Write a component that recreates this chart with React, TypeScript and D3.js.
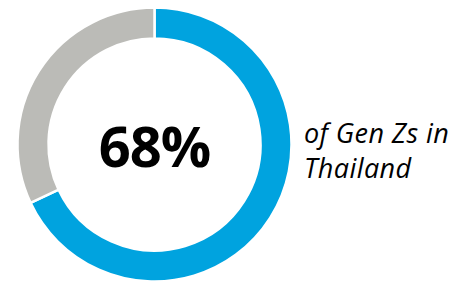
import { useEffect, useRef } from "react";
import * as d3 from "d3";

const segments = ["Gen Zs", "Others"];
const values = [68, 32];
const colors = ["#00a3df", "#bbbbb7"];
const centerLabel = "68%";
const sideLines = ["of Gen Zs in", "Thailand"];

export default function App() {
  const svgRef = useRef<SVGSVGElement>(null);

  useEffect(() => {
    if (!svgRef.current) return;
    const svg = d3.select(svgRef.current);
    svg.selectAll("*").remove();

    const cx = 154.5;
    const cy = 144.5;
    const outer = 137;
    const inner = 106;

    const pie = d3.pie<number>().sort(null).value(d => d);
    const arc = d3.arc<d3.PieArcDatum<number>>().innerRadius(inner).outerRadius(outer);

    const g = svg.append("g").attr("transform", `translate(${cx},${cy})`);
    g.selectAll("path")
      .data(pie(values))
      .join("path")
      .attr("d", arc)
      .attr("fill", (_, i) => colors[i])
      .attr("stroke", "#fff")
      .attr("stroke-width", 2.5)
      .append("title")
      .text((_, i) => segments[i]);

    g.append("text")
      .attr("x", 0)
      .attr("y", 22)
      .attr("text-anchor", "middle")
      .attr("font-family", "Open Sans, sans-serif")
      .attr("font-weight", 700)
      .attr("font-size", 56)
      .attr("letter-spacing", -1)
      .attr("fill", "#000")
      .text(centerLabel);

    // side caption, two lines
    svg.append("g")
      .selectAll("text")
      .data(sideLines)
      .join("text")
      .attr("x", 304)
      .attr("y", (_, i) => 143 + i * 35)
      .attr("font-family", "Open Sans, sans-serif")
      .attr("font-style", "italic")
      .attr("font-size", 27)
      .attr("letter-spacing", 0.4)
      .attr("fill", "#000")
      .text(d => d);
  }, []);

  return (
    <div style={{ position: "absolute", left: 0, top: 0, width: 454, height: 281, background: "#fff" }}>
      <svg ref={svgRef} width={454} height={281} style={{ display: "block" }} />
    </div>
  );
}
